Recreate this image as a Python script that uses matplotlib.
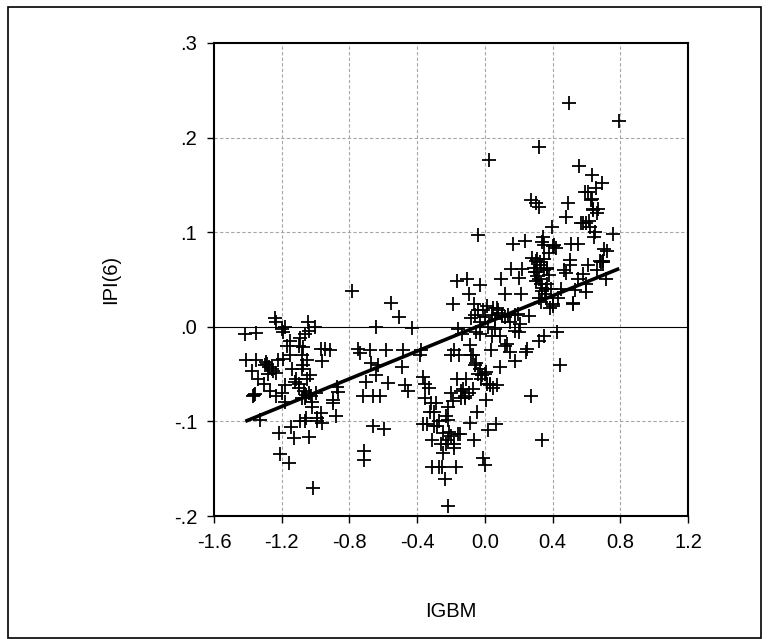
import numpy as np
import matplotlib
matplotlib.use('Agg')
import matplotlib.pyplot as plt

# scatter data (IGBM vs IPI(6))
igbm = [-1.415, -1.351, -1.41, -1.374, -1.351, -1.365, -1.36, -1.328, -1.302, -1.293,
        -1.285, -1.273, -1.27, -1.25, -1.241, -1.236, -1.236, -1.236, -1.218, -1.212,
        -1.2, -1.195, -1.192, -1.183, -1.178, -1.155, -1.143, -1.126, -1.149, -1.114,
        -1.1, -1.091, -1.083, -1.077, -1.077, -1.068, -1.062, -1.056, -1.054, -1.048,
        -1.045, -1.039, -1.039, -1.033, -1.028, -1.019, -1.013, -1.005, -0.99, -0.97,
        -0.961, -0.97, -0.961, -0.947, -0.912, -0.9, -0.895, -0.88, -0.875, -0.866,
        -0.785, -0.751, -0.739, -0.722, -0.716, -0.716, -0.702, -0.681, -0.67, -0.658,
        -0.644, -0.658, -0.641, -0.629, -0.621, -0.595, -0.583, -0.572, -0.557, -0.508,
        -0.491, -0.485, -0.471, -0.456, -0.433, -0.384, -0.375, -0.364, -0.364, -0.352,
        -0.352, -0.341, -0.326, -0.318, -0.312, -0.312, -0.3, -0.289, -0.283, -0.268,
        -0.26, -0.254, -0.248, -0.237, -0.231, -0.231, -0.219, -0.219, -0.211, -0.202,
        -0.202, -0.191, -0.182, -0.185, -0.173, -0.167, -0.162, -0.156, -0.153, -0.144,
        -0.139, -0.133, -0.127, -0.115, -0.11, -0.104, -0.095, -0.095, -0.089, -0.087,
        -0.081, -0.081, -0.072, -0.066, -0.064, -0.058, -0.052, -0.046, -0.038, -0.038,
        -0.029, -0.029, -0.029, -0.017, -0.009, 0.0, 0.006, 0.006, 0.014, 0.02,
        0.023, 0.029, 0.035, 0.049, 0.058, 0.064, 0.069, 0.078, 0.087, 0.098,
        0.101, 0.121, 0.13, 0.136, 0.15, 0.156, 0.165, 0.179, 0.179, 0.193,
        0.202, 0.208, 0.214, 0.222, 0.237, 0.243, 0.251, 0.26, 0.271, 0.274,
        0.28, 0.295, 0.303, 0.309, 0.318, 0.318, 0.318, 0.323, 0.329, 0.338,
        0.338, 0.346, 0.352, 0.352, 0.358, 0.367, 0.381, 0.387, 0.395, 0.404,
        0.41, 0.424, 0.445, 0.482, 0.482, 0.491, 0.497, 0.502, 0.511, 0.52,
        0.531, 0.548, 0.554, 0.569, 0.577, 0.589, 0.598, 0.612, 0.618, 0.626,
        0.635, 0.641, 0.647, 0.655, 0.67, 0.684, 0.693, 0.704, 0.713, 0.756,
        0.794,
        # dense right cluster
        0.29, 0.30, 0.31, 0.32, 0.33, 0.34, 0.35, 0.36, 0.37, 0.38,
        0.33, 0.31, 0.35, 0.34, 0.37, 0.39, 0.40, 0.36, 0.32, 0.30,
        # dense middle cluster
        -0.05, -0.03, 0.0, 0.02, 0.04, 0.06, 0.08, 0.10, 0.12, -0.07,
        -0.04, -0.02, 0.0, 0.03, 0.05, -0.06, 0.01, -0.01, 0.04, 0.07,
        0.15, 0.18, 0.20, 0.12, 0.09,
        # lower middle cluster
        -0.33, -0.30, -0.27, -0.25, -0.22, -0.20, -0.18, -0.16, -0.22, -0.19,
        -0.14, -0.12,
        # left cluster
        -1.30, -1.28, -1.26, -1.22, -1.20, -1.17, -1.15, -1.12, -1.10, -1.08,
        -1.06, -1.04, -1.02, -1.08, -1.05, -1.10, -1.14, -1.34, -1.37, -1.18,
        -0.99, -1.00, -1.09, -1.06,
        # far right
        0.60, 0.62, 0.64, 0.66, 0.68, 0.70, 0.72, 0.65, 0.58, 0.55,
        0.60, 0.66, 0.52, 0.50, 0.45, 0.43, 0.47, 0.42, 0.40, 0.63,
        0.70, 0.61]

ipi6 = [-0.008, -0.007, -0.035, -0.047, -0.035, -0.072, -0.071, -0.098, -0.06, -0.037,
        -0.039, -0.043, -0.068, -0.047, 0.009, 0.005, -0.049, -0.073, -0.112, -0.134,
        -0.002, -0.006, -0.034, -0.062, 0.0, -0.144, -0.106, -0.118, -0.015, -0.055,
        -0.06, -0.012, -0.03, -0.04, -0.021, -0.068, -0.008, -0.072, -0.096, -0.035,
        0.005, -0.004, -0.116, -0.051, -0.073, -0.085, -0.17, 0.0, -0.096, -0.091,
        -0.102, -0.023, -0.036, -0.023, -0.024, -0.081, -0.077, -0.094, -0.064, -0.069,
        0.038, -0.023, -0.028, -0.073, -0.131, -0.141, -0.058, -0.025, -0.038, -0.073,
        0.0, -0.105, -0.051, -0.04, -0.073, -0.108, -0.025, -0.059, 0.025, 0.01,
        -0.043, -0.025, -0.061, -0.068, -0.001, -0.03, -0.024, -0.053, -0.103, -0.06,
        -0.075, -0.103, -0.09, -0.081, -0.12, -0.148, -0.105, -0.081, -0.105, -0.148,
        -0.124, -0.148, -0.133, -0.161, -0.094, -0.124, -0.189, -0.085, -0.111, -0.07,
        -0.03, 0.024, -0.025, -0.124, -0.148, -0.055, 0.048, -0.002, -0.03, -0.113,
        -0.075, -0.008, -0.066, -0.073, -0.055, 0.05, 0.035, -0.07, -0.102, -0.019,
        0.009, -0.03, -0.066, -0.12, 0.024, -0.04, -0.038, -0.09, 0.097, 0.018,
        0.044, -0.045, -0.008, -0.051, -0.139, -0.146, -0.077, -0.048, -0.06, -0.109,
        0.176, -0.062, -0.025, 0.02, -0.002, -0.103, -0.062, 0.018, -0.043, 0.05,
        0.011, 0.035, -0.018, 0.013, -0.027, 0.061, 0.087, -0.036, -0.004, 0.014,
        0.052, 0.003, 0.035, 0.061, 0.091, -0.027, -0.023, 0.011, -0.073, 0.134,
        0.073, 0.058, 0.131, 0.054, 0.19, 0.127, -0.015, 0.069, 0.026, -0.12,
        0.041, 0.095, 0.086, -0.01, 0.035, 0.061, 0.078, 0.02, 0.106, 0.024,
        0.086, -0.006, -0.04, 0.057, 0.116, 0.131, 0.237, 0.071, 0.087, 0.024,
        0.039, 0.087, 0.17, 0.11, 0.056, 0.142, 0.037, 0.065, 0.112, 0.134,
        0.16, 0.123, 0.095, 0.147, 0.125, 0.069, 0.152, 0.082, 0.05, 0.098,
        0.218,
        0.062, 0.048, 0.058, 0.05, 0.045, 0.038, 0.06, 0.03, 0.045, 0.055,
        0.065, 0.072, 0.072, 0.09, 0.062, 0.04, 0.085, 0.04, 0.03, 0.07,
        -0.005, 0.005, 0.01, 0.0, -0.01, 0.008, 0.015, 0.012, 0.01, -0.03,
        -0.05, -0.055, -0.05, -0.06, -0.065, 0.012, 0.022, 0.018, 0.012, 0.02,
        0.005, 0.012, -0.005, -0.02, -0.01,
        -0.065, -0.09, -0.1, -0.112, -0.12, -0.115, -0.128, -0.113, -0.098, -0.078,
        -0.068, -0.075,
        -0.04, -0.05, -0.045, -0.035, -0.07, -0.02, -0.03, -0.058, -0.065, -0.075,
        -0.075, -0.07, -0.08, -0.045, -0.055, -0.02, -0.045, -0.055, -0.073, -0.08,
        -0.1, -0.07, -0.1, -0.1,
        0.11, 0.105, 0.125, 0.12, 0.07, 0.07, 0.08, 0.1, 0.11, 0.05,
        0.045, 0.06, 0.025, 0.065, 0.04, 0.03, 0.06, 0.083, 0.022, 0.135,
        0.068, 0.142]

# fitted regression line
fit_intercept = 0.0035
fit_slope = 0.0731

x_ticks = [-1.6, -1.2, -0.8, -0.4, 0.0, 0.4, 0.8, 1.2]
x_labels = ['-1.6', '-1.2', '-0.8', '-0.4', '0.0', '0.4', '0.8', '1.2']
y_ticks = [-0.2, -0.1, 0.0, 0.1, 0.2, 0.3]
y_labels = ['-.2', '-.1', '.0', '.1', '.2', '.3']

plt.rcParams['font.family'] = ['Liberation Sans', 'DejaVu Sans']

fig = plt.figure(figsize=(7.69, 6.39), dpi=100)
ax = fig.add_axes([214/769, 1-516/639, (688-214)/769, (516-43)/639])

# outer frame
frame = plt.Rectangle((8/769, 0.002), (761-8)/769, 1-7/639-0.002, transform=fig.transFigure,
                      fill=False, edgecolor='black', linewidth=1.2)
fig.patches.append(frame)

x = np.array(igbm)
y = np.array(ipi6)

ax.set_xlim(-1.6, 1.2)
ax.set_ylim(-0.2, 0.3)

# grid
for gx in x_ticks[1:-1]:
    ax.axvline(gx, color='#a6a6a6', linestyle=(0, (3, 2)), linewidth=0.8, zorder=0)
for gy in [-0.1, 0.1, 0.2]:
    ax.axhline(gy, color='#a6a6a6', linestyle=(0, (3, 2)), linewidth=0.8, zorder=0)
ax.axhline(0.0, color='black', linewidth=0.8, zorder=1)

ax.plot(x, y, linestyle='none', marker='+', markersize=9.5, markeredgewidth=1.3,
        color='black', zorder=3)

xl = np.array([x.min(), x.max()])
ax.plot(xl, fit_intercept + fit_slope * xl, color='black', linewidth=2.6,
        solid_capstyle='butt', zorder=4)

ax.set_xticks(x_ticks)
ax.set_xticklabels(x_labels)
ax.set_yticks(y_ticks)
ax.set_yticklabels(y_labels)
ax.tick_params(direction='out', length=5, width=1, labelsize=14.5, pad=7, colors='black')
for s in ax.spines.values():
    s.set_linewidth(1.5)
    s.set_color('black')

ax.set_xlabel('IGBM', fontsize=14.5)
ax.set_ylabel('IPI(6)', fontsize=14.5)
ax.xaxis.set_label_coords(0.5, -0.182)
ax.yaxis.set_label_coords(-0.198, 0.5)

plt.savefig('out.png', dpi=100)
